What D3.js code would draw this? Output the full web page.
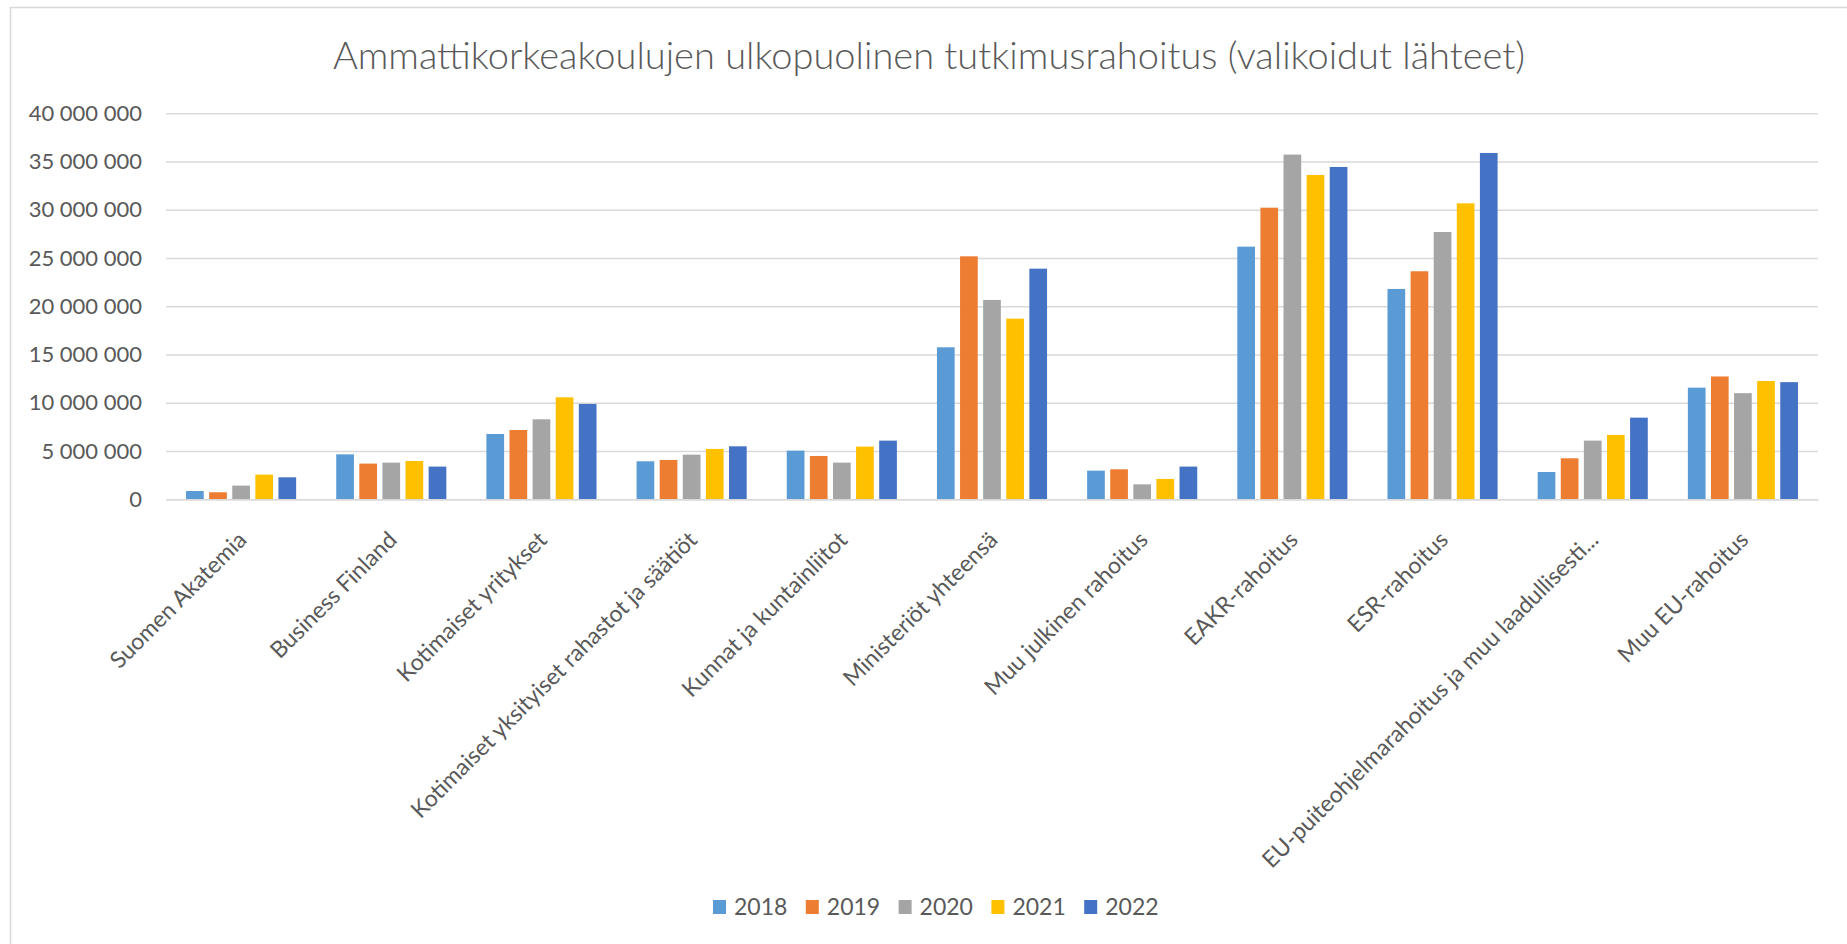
<!DOCTYPE html>
<html>
<head>
<meta charset="utf-8">
<script src="https://cdn.jsdelivr.net/npm/d3@7/dist/d3.min.js"></script>
<style>
  body { margin: 0; background: #fff; }
  svg { display: block; font-family: Lato, "Open Sans", sans-serif; }
</style>
</head>
<body>
<div id="chart"></div>
<script>
// categories on the x axis
var categories = [
  "Suomen Akatemia",
  "Business Finland",
  "Kotimaiset yritykset",
  "Kotimaiset yksityiset rahastot ja säätiöt",
  "Kunnat ja kuntainliitot",
  "Ministeriöt yhteensä",
  "Muu julkinen rahoitus",
  "EAKR-rahoitus",
  "ESR-rahoitus",
  "EU-puiteohjelmarahoitus ja muu laadullisesti...",
  "Muu EU-rahoitus"
];
var years = ["2018", "2019", "2020", "2021", "2022"];

// values (euros)
var v2018 = [860000, 4660000, 6770000, 3940000, 5040000, 15750000, 2970000, 26180000, 21800000, 2830000, 11570000];
var v2019 = [730000, 3700000, 7180000, 4080000, 4490000, 25180000, 3110000, 30220000, 23630000, 4250000, 12730000];
var v2020 = [1420000, 3800000, 8290000, 4630000, 3800000, 20660000, 1550000, 35720000, 27700000, 6080000, 11000000];
var v2021 = [2560000, 3970000, 10570000, 5220000, 5460000, 18720000, 2110000, 33610000, 30670000, 6670000, 12260000];
var v2022 = [2280000, 3390000, 9880000, 5490000, 6080000, 23900000, 3390000, 34440000, 35890000, 8460000, 12140000];

var yTicks = [0, 5000000, 10000000, 15000000, 20000000, 25000000, 30000000, 35000000, 40000000];
var colors = ["#5b9bd5", "#ed7d31", "#a5a5a5", "#ffc000", "#4472c4"];

var cfg = {
  w: 1847,
  h: 944,
  margin: {top: 113.3, right: 29, bottom: 444.7, left: 166},
  title: "Ammattikorkeakoulujen ulkopuolinen tutkimusrahoitus (valikoidut lähteet)",
  textColor: "#595959",
  gridColor: "#d9d9d9"
};

var seriesValues = [v2018, v2019, v2020, v2021, v2022];
var data = categories.map(function(c, i) {
  var row = {cat: c};
  years.forEach(function(yr, j) { row[yr] = seriesValues[j][i]; });
  return row;
});

var graphW = cfg.w - cfg.margin.left - cfg.margin.right;
var graphH = cfg.h - cfg.margin.top - cfg.margin.bottom;

var svg = d3.select("#chart")
  .append("svg")
  .attr("width", cfg.w)
  .attr("height", cfg.h);

// chart area border (cut by the right/bottom edges like the screenshot)
svg.append("rect")
  .attr("x", 10.5).attr("y", 7.5)
  .attr("width", cfg.w + 20).attr("height", cfg.h + 20)
  .attr("fill", "none")
  .attr("stroke", cfg.gridColor)
  .attr("stroke-width", 1.5);

// title
svg.append("text")
  .attr("x", 929)
  .attr("y", 69)
  .attr("text-anchor", "middle")
  .style("font-size", "38px")
  .style("font-weight", 300)
  .style("fill", cfg.textColor)
  .text(cfg.title);

var g = svg.append("g")
  .attr("transform", "translate(" + cfg.margin.left + "," + cfg.margin.top + ")");

var x0 = d3.scaleBand()
  .domain(categories)
  .range([0, graphW])
  .padding(0);

var x1 = d3.scaleBand()
  .domain(years)
  .range([0, x0.bandwidth()])
  .paddingInner(0.234)
  .paddingOuter(0.867);

var y = d3.scaleLinear()
  .domain([0, 40000000])
  .range([graphH, 0]);

var fmt = function(d) { return d3.format(",")(d).replace(/,/g, " "); };

// Y axis with gridlines
var yAxis = g.append("g")
  .call(d3.axisLeft(y).tickValues(yTicks).tickSize(-graphW).tickPadding(24).tickFormat(fmt));
yAxis.select(".domain").remove();
yAxis.selectAll("line")
  .attr("stroke", cfg.gridColor)
  .attr("stroke-width", 1.5);
yAxis.selectAll("text")
  .style("font-size", "22px")
  .style("fill", cfg.textColor)
  .style("font-family", "Lato, sans-serif");

// bars
var groups = g.selectAll(".grp")
  .data(data)
  .enter()
  .append("g")
  .attr("class", "grp")
  .attr("transform", function(d) { return "translate(" + x0(d.cat) + ",0)"; });

groups.selectAll("rect")
  .data(function(d) { return years.map(function(yr, j) { return {yr: yr, v: d[yr], c: colors[j]}; }); })
  .enter()
  .append("rect")
  .attr("x", function(d) { return x1(d.yr); })
  .attr("y", function(d) { return y(d.v); })
  .attr("width", x1.bandwidth())
  .attr("height", function(d) { return graphH - y(d.v); })
  .style("fill", function(d) { return d.c; });

// X axis with rotated labels
var xAxis = g.append("g")
  .attr("transform", "translate(0," + graphH + ")")
  .call(d3.axisBottom(x0).tickSize(0));
xAxis.select(".domain")
  .attr("stroke", cfg.gridColor)
  .attr("stroke-width", 1.5);
xAxis.selectAll("text")
  .attr("x", 0).attr("y", 0).attr("dy", 0)
  .attr("text-anchor", "end")
  .attr("transform", "translate(7,42) rotate(-45)")
  .style("font-size", "23px")
  .style("fill", cfg.textColor)
  .style("font-family", "Lato, sans-serif");

// legend
var legend = svg.append("g")
  .attr("transform", "translate(713,907)");
var item = legend.selectAll(".lg")
  .data(years)
  .enter()
  .append("g")
  .attr("class", "lg")
  .attr("transform", function(d, i) { return "translate(" + (i * 92.8) + ",0)"; });
item.append("rect")
  .attr("x", 0).attr("y", -7)
  .attr("width", 13).attr("height", 14)
  .style("fill", function(d, i) { return colors[i]; });
item.append("text")
  .attr("x", 21)
  .attr("y", 0)
  .attr("dy", "0.36em")
  .style("font-size", "23px")
  .style("fill", cfg.textColor)
  .text(function(d) { return d; });
</script>
</body>
</html>
